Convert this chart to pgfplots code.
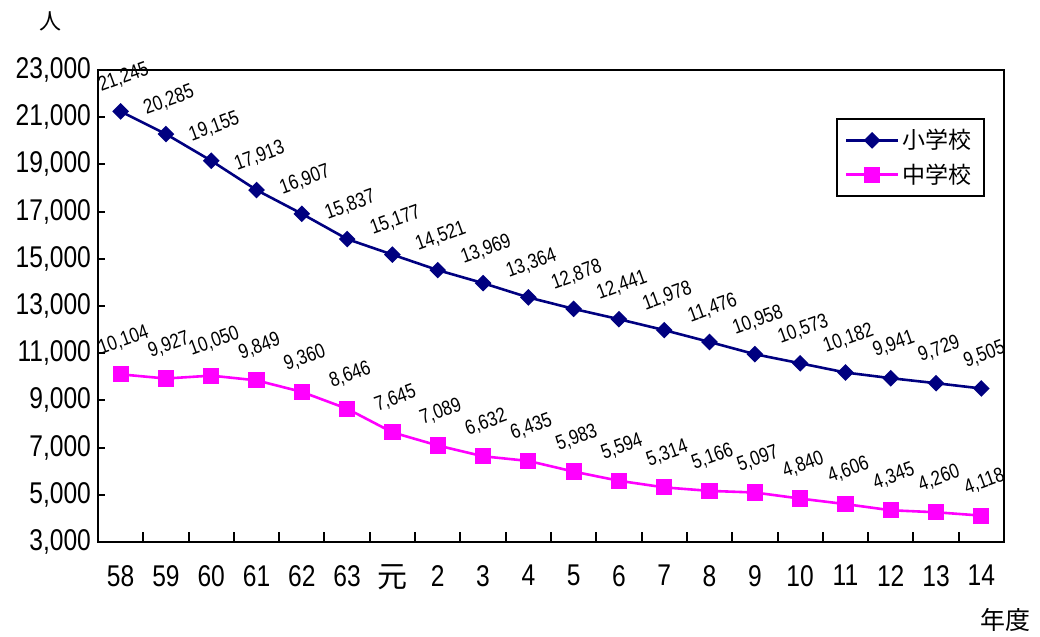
\documentclass[border=0pt]{standalone}
\usepackage{fontspec}
\setmainfont{Liberation Sans}[FakeStretch=0.82]
\newfontfamily\cjk{Noto Sans CJK JP}
\usepackage{pgfplots}
\pgfplotsset{compat=1.18}
\definecolor{navy}{HTML}{000080}
\definecolor{mag}{HTML}{FF00FF}
\begin{document}
\begin{tikzpicture}
\useasboundingbox (-49pt,-47.5pt) rectangle (471pt,271pt);
\begin{axis}[
  at={(0,0)}, anchor=south west,
  width=453pt, height=236pt, scale only axis,
  xmin=-0.5, xmax=19.5, ymin=3000, ymax=23000,
  clip=false,
  axis line style={line width=1pt},
  xtick={0,...,19},
  xticklabels={58,59,60,61,62,63,{\cjk 元},2,3,4,5,6,7,8,9,10,11,12,13,14},
  major x tick style={draw=none},
  minor xtick={0.5,1.5,...,18.5},
  minor tick length=5pt,
  minor x tick style={line width=1pt,black},
  ytick={3000,5000,...,23000},
  scaled y ticks=false,
  major tick length=3.5pt,
  major y tick style={line width=1pt,black},
  xtick pos=bottom, ytick pos=left,
  tick align=inside,
  /pgf/number format/.cd, fixed, 1000 sep={,}, assume math mode=true,
  /pgfplots/.cd,
  ticklabel style={font=\fontsize{15}{17}\selectfont},
  yticklabel style={/pgf/number format/fixed, /pgf/number format/1000 sep={,}},
  xticklabel style={yshift=-8pt},
  nodes near coords,
  every node near coord/.append style={font=\fontsize{10.3}{12}\selectfont, xshift=1.5pt, yshift=17pt, rotate=20, anchor=center, black},
  legend style={at={(0.979,0.898)}, anchor=north east, draw=black, line width=1pt,
    font=\cjk\fontsize{11.5}{13.5}\selectfont, row sep=2pt, inner xsep=4pt, inner ysep=3pt},
  legend cell align=left,
  legend image code/.code={\draw[mark repeat=2,mark phase=2] plot coordinates {(0cm,0cm) (0.45cm,0cm) (0.9cm,0cm)};},
]
\addplot[navy, line width=1.3pt, mark=square*, mark size=2.3pt, mark options={rotate=45, solid}] coordinates {
(0,21245) (1,20285) (2,19155) (3,17913) (4,16907) (5,15837) (6,15177) (7,14521) (8,13969) (9,13364)
(10,12878) (11,12441) (12,11978) (13,11476) (14,10958) (15,10573) (16,10182) (17,9941) (18,9729) (19,9505)};
\addlegendentry{小学校}
\addplot[mag, line width=1.3pt, mark=square*, mark size=3.4pt, mark options={solid}] coordinates {
(0,10104) (1,9927) (2,10050) (3,9849) (4,9360) (5,8646) (6,7645) (7,7089) (8,6632) (9,6435)
(10,5983) (11,5594) (12,5314) (13,5166) (14,5097) (15,4840) (16,4606) (17,4345) (18,4260) (19,4118)};
\addlegendentry{中学校}
\node[font=\cjk\fontsize{11}{13}\selectfont] at (rel axis cs:-0.052,1.102) {人};
\node[font=\cjk\fontsize{12.5}{14}\selectfont] at (rel axis cs:1.002,-0.165) {年度};
\end{axis}
\end{tikzpicture}
\end{document}
